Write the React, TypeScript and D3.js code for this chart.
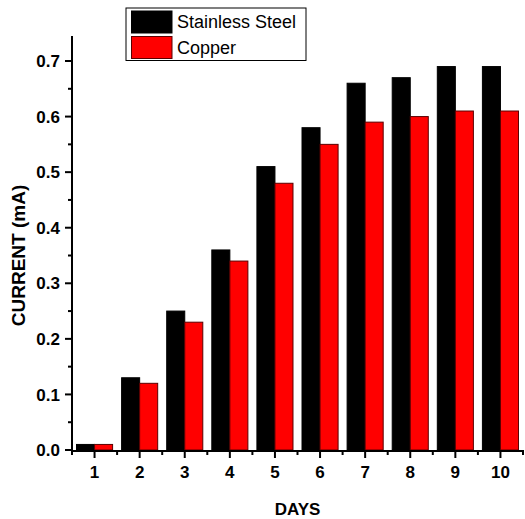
import React from "react";
import * as d3 from "d3";

const days = ["1", "2", "3", "4", "5", "6", "7", "8", "9", "10"];
const stainless = [0.01, 0.13, 0.25, 0.36, 0.51, 0.58, 0.66, 0.67, 0.69, 0.69];
const copper = [0.01, 0.12, 0.23, 0.34, 0.48, 0.55, 0.59, 0.6, 0.61, 0.61];
const yTicks = [0.0, 0.1, 0.2, 0.3, 0.4, 0.5, 0.6, 0.7];
const yMinor = [0.05, 0.15, 0.25, 0.35, 0.45, 0.55, 0.65];
const seriesNames = ["Stainless Steel", "Copper"];
const seriesColors = ["#000000", "#ff0000"];

const W = 525;
const H = 519;
const left = 72;
const right = 523;
const top = 36;
const bottom = 450;
const font = "'Liberation Sans', Arial, sans-serif";

export default function App() {
  const x = d3.scaleBand<string>().domain(days).range([left, right]).paddingInner(0.2).paddingOuter(0.1);
  const sub = d3.scaleBand<number>().domain([0, 1]).range([0, x.bandwidth()]);
  const y = d3.scaleLinear().domain([0, 0.745]).range([bottom, top]);
  const step = x.step();
  const minorX = d3.range(days.length + 1).map((i) => left + i * step);
  const series = [stainless, copper];

  return (
    <svg width={W} height={H} style={{ position: "absolute", left: 0, top: 0, background: "#fff" }}>
      {series.map((vals, s) =>
        vals.map((v, i) => (
          <rect
            key={`${s}-${i}`}
            x={(x(days[i]) as number) + (sub(s) as number)}
            y={y(v)}
            width={sub.bandwidth()}
            height={y(0) - y(v)}
            fill={seriesColors[s]}
            stroke={s === 1 ? "#5a0000" : "#000"}
            strokeWidth={1}
          />
        ))
      )}
      {/* y axis */}
      <line x1={left} x2={left} y1={top} y2={bottom + 1} stroke="#000" strokeWidth={2} />
      {yTicks.map((t) => (
        <g key={`yt${t}`}>
          <line x1={left - 7} x2={left} y1={y(t)} y2={y(t)} stroke="#000" strokeWidth={2} />
          <text
            x={left - 12}
            y={y(t)}
            dy="0.36em"
            textAnchor="end"
            fontFamily={font}
            fontWeight="bold"
            fontSize={17}
          >
            {t.toFixed(1)}
          </text>
        </g>
      ))}
      {yMinor.map((t) => (
        <line key={`ym${t}`} x1={left - 4} x2={left} y1={y(t)} y2={y(t)} stroke="#000" strokeWidth={2} />
      ))}
      {/* x axis */}
      <line x1={left - 1} x2={right + 1} y1={bottom + 1} y2={bottom + 1} stroke="#000" strokeWidth={2} />
      {days.map((d) => {
        const cx = (x(d) as number) + x.bandwidth() / 2;
        return (
          <g key={`xt${d}`}>
            <line x1={cx} x2={cx} y1={bottom} y2={bottom + 8} stroke="#000" strokeWidth={2} />
            <text x={cx} y={478} textAnchor="middle" fontFamily={font} fontWeight="bold" fontSize={17}>
              {d}
            </text>
          </g>
        );
      })}
      {minorX.map((mx, i) => (
        <line key={`xm${i}`} x1={mx} x2={mx} y1={bottom} y2={bottom + 5} stroke="#000" strokeWidth={2} />
      ))}
      {/* axis titles */}
      <text
        transform={`translate(25, ${(179 + 332) / 2}) rotate(-90)`}
        textAnchor="middle"
        fontFamily={font}
        fontWeight="bold"
        fontSize={19}
      >
        CURRENT (mA)
      </text>
      <text x={(left + right) / 2} y={515} textAnchor="middle" fontFamily={font} fontWeight="bold" fontSize={17}>
        DAYS
      </text>
      {/* legend */}
      <rect x={126} y={8} width={180} height={52.5} fill="#fff" stroke="#000" strokeWidth={1} />
      {seriesNames.map((n, i) => (
        <g key={n}>
          <rect
            x={131.5}
            y={11 + i * 25.5}
            width={40.5}
            height={22}
            fill={seriesColors[i]}
            stroke={i === 1 ? "#5a0000" : "#000"}
            strokeWidth={1}
          />
          <text x={177} y={22 + i * 25.5} dy="0.36em" fontFamily={font} fontSize={18}>
            {n}
          </text>
        </g>
      ))}
    </svg>
  );
}
